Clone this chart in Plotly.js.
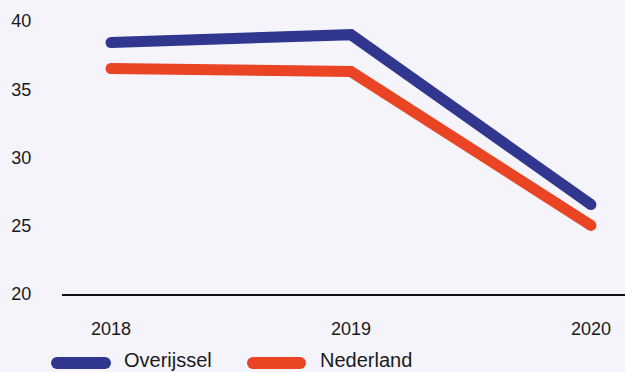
<!DOCTYPE html>
<html>
<head>
<meta charset="utf-8">
<script src="https://cdn.plot.ly/plotly-3.0.1.min.js"></script>
<style>html,body{margin:0;padding:0;background:#f4f4fa;}#chart{width:625px;height:372px;}</style>
</head>
<body>
<div id="chart"></div>
<script>
const years = ['2018', '2019', '2020'];
const overijssel = [38.42, 39.0, 26.55];
const nederland = [36.52, 36.3, 25.02];
const seriesNames = ['Overijssel', 'Nederland'];
const yTicks = [20, 25, 30, 35, 40];

const blue = '#31368f';
const red = '#e94424';
const xIdx = years.map((_, i) => i);

function trace(vals, color, name) {
  return {
    x: xIdx, y: vals, name: name, type: 'scatter', mode: 'lines+markers',
    line: {color: color, width: 11},
    marker: {color: color, size: [11, 0, 11], opacity: 1, line: {width: 0}},
    hoverinfo: 'skip', showlegend: false, cliponaxis: false
  };
}

const data = [trace(overijssel, blue, seriesNames[0]), trace(nederland, red, seriesNames[1])];

const shapes = [];
const annotations = [];
const legendItems = [
  {x0: 57, x1: 105, color: blue, textX: 122, name: seriesNames[0]},
  {x0: 253, x1: 300, color: red, textX: 318, name: seriesNames[1]}
];
const W = 625, H = 372, ml = 62, mr = 0, mt = 0, mb = 78;
const pw = W - ml - mr, ph = H - mt - mb;
function px(x) { return (x - ml) / pw; }
function py(y) { return (H - mb - y) / ph; }
const legY = 363;
legendItems.forEach(it => {
  shapes.push({type: 'line', xref: 'paper', yref: 'paper', x0: px(it.x0), x1: px(it.x1), y0: py(legY), y1: py(legY), line: {color: it.color, width: 12}});
  [it.x0, it.x1].forEach(cx => {
    shapes.push({type: 'circle', xref: 'paper', yref: 'paper', xsizemode: 'pixel', ysizemode: 'pixel',
      xanchor: px(cx), yanchor: py(legY), x0: -6, x1: 6, y0: -6, y1: 6,
      fillcolor: it.color, line: {width: 0}});
  });
  annotations.push({xref: 'paper', yref: 'paper', x: px(it.textX), y: py(360), xanchor: 'left', yanchor: 'middle',
    text: it.name, showarrow: false, font: {family: 'Liberation Sans, Arial, sans-serif', size: 20, color: '#1a1a1a'}});
});

const tickFont = {family: 'Liberation Sans, Arial, sans-serif', size: 18, color: '#1a1a1a'};

const layout = {
  width: W, height: H,
  margin: {l: ml, r: mr, t: mt, b: mb, pad: 0},
  paper_bgcolor: '#f4f4fa', plot_bgcolor: '#f4f4fa',
  font: {family: 'Liberation Sans, Arial, sans-serif', size: 18, color: '#1a1a1a'},
  xaxis: {
    type: 'linear', range: [-0.204, 2.142], tickvals: xIdx, ticktext: years, tickfont: tickFont,
    showgrid: false, zeroline: false, showline: true, linecolor: '#111', linewidth: 2,
    ticks: 'outside', ticklen: 17, tickcolor: 'rgba(0,0,0,0)', fixedrange: true
  },
  yaxis: {
    range: [20, 20 + ph / 13.65], tickvals: yTicks, ticktext: yTicks.map(String), tickfont: tickFont,
    showgrid: false, zeroline: false, showline: false,
    ticks: 'outside', ticklen: 26, tickcolor: 'rgba(0,0,0,0)', fixedrange: true
  },
  shapes: shapes, annotations: annotations, showlegend: false
};

Plotly.newPlot('chart', data, layout, {displayModeBar: false, staticPlot: true});
</script>
</body>
</html>
